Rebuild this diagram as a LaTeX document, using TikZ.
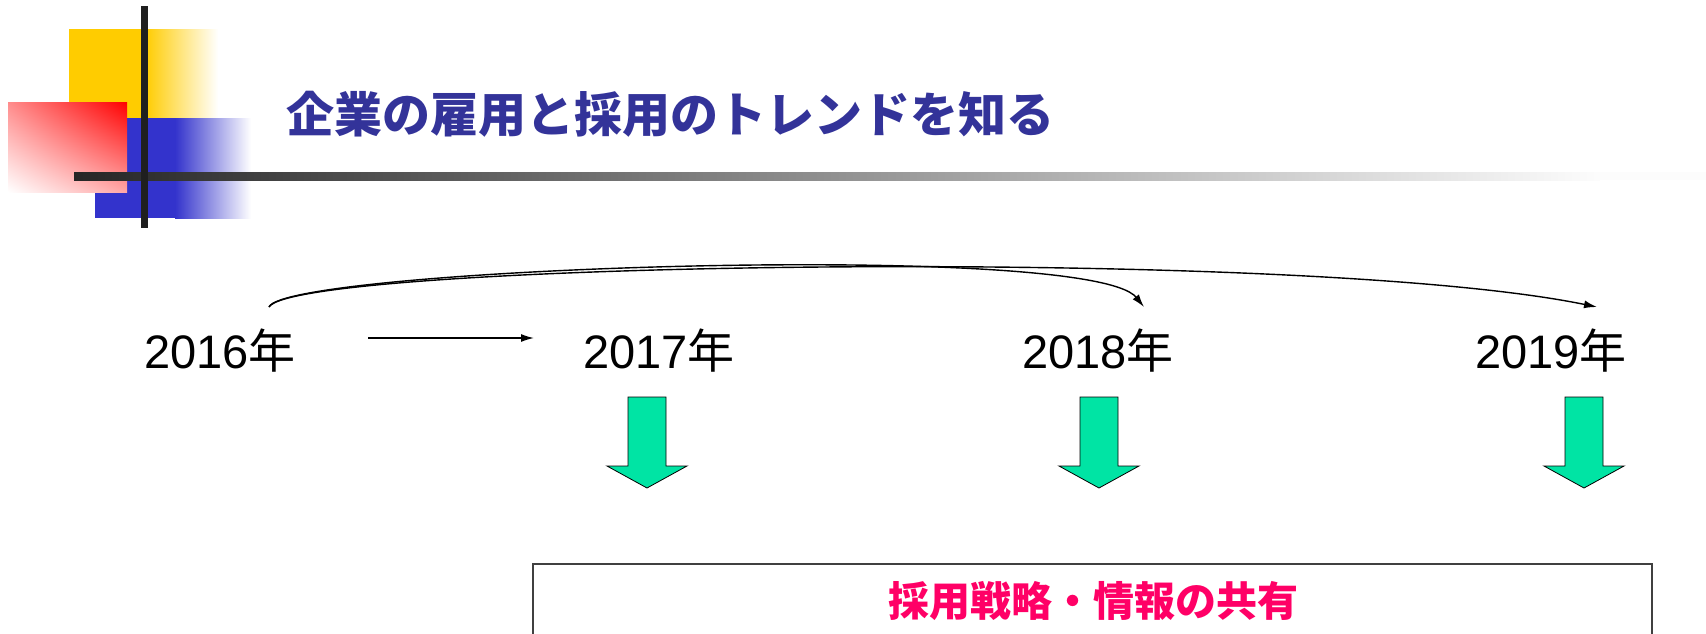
\documentclass[tikz,border=0pt]{standalone}
\usepackage{fontspec}
\setmainfont{Liberation Sans}
\newfontfamily\cjk{Noto Sans CJK JP}
\usetikzlibrary{arrows.meta,shadings}
\definecolor{titleblue}{RGB}{51,51,153}
\definecolor{decoyellow}{RGB}{255,204,0}
\definecolor{decoblue}{RGB}{51,51,204}
\definecolor{arrowgreen}{RGB}{0,228,164}
\definecolor{pinktext}{RGB}{255,0,102}
\tikzset{
  yearlabel/.style={inner sep=0pt, anchor=base, font=\fontsize{47}{47}\selectfont},
  tline/.style={line width=1.4pt, -{Latex[length=13pt,width=8pt]}},
  downarrow/.style={draw=black, line width=0.8pt, fill=arrowgreen},
}
\begin{document}
\begin{tikzpicture}[x=1pt,y=-1pt]
\useasboundingbox (0,0) rectangle (1706,633);
% decoration
\fill[decoyellow] (69,29) rectangle (146,118);
\shade[left color=decoyellow, right color=white] (145,29) rectangle (218,118);
\fill[decoblue] (95,118) rectangle (176,218);
\shade[left color=decoblue, right color=white] (175,118) rectangle (251,218);
\shade[upper left=red!45, upper right=red, lower left=white, lower right=red!35] (8,102) rectangle (127,192);
\shade[left color=black!85, right color=black!1] (74,172) rectangle (1600,180);
\fill[black!1] (1599,172) rectangle (1706,180);
\fill[black!88] (141,6) rectangle (148,228);
% title
\node[inner sep=0pt, text=titleblue, font=\cjk\bfseries\fontsize{48}{48}\selectfont] (title) at (670,114) {企業の雇用と採用のトレンドを知る};
% years
\node[yearlabel] (y16) at (220,368) {2016{\cjk 年}};
\node[yearlabel] (y17) at (659,368) {2017{\cjk 年}};
\node[yearlabel] (y18) at (1098,368) {2018{\cjk 年}};
\node[yearlabel] (y19) at (1551,368) {2019{\cjk 年}};
\coordinate (s) at (269,307);
\coordinate (e18) at (1144,307);
\coordinate (e19) at (1597,307);
\coordinate (a1) at (368,338);
\coordinate (a2) at (534,338);
\draw[tline] (a1) -- (a2);
\draw[tline] (s) .. controls (285,268) and (1090,240) .. (e18);
\draw[tline] (s) .. controls (295,262) and (1300,246) .. (e19);
% green arrows
\foreach \cx/\nm in {647/g17,1099/g18,1584/g19}{
  \draw[downarrow] (\cx-19,397) -- (\cx+19,397) -- (\cx+19,466) -- (\cx+40,466) -- (\cx,488) -- (\cx-40,466) -- (\cx-19,466) -- cycle;
}
% box
\draw[black!75, line width=1.5pt] (533,640) -- (533,564) -- (1652,564) -- (1652,640);
\node[inner sep=0pt, text=pinktext, font=\cjk\bfseries\fontsize{41}{41}\selectfont] (share) at (1093,601) {採用戦略・情報の共有};
\end{tikzpicture}
\end{document}
